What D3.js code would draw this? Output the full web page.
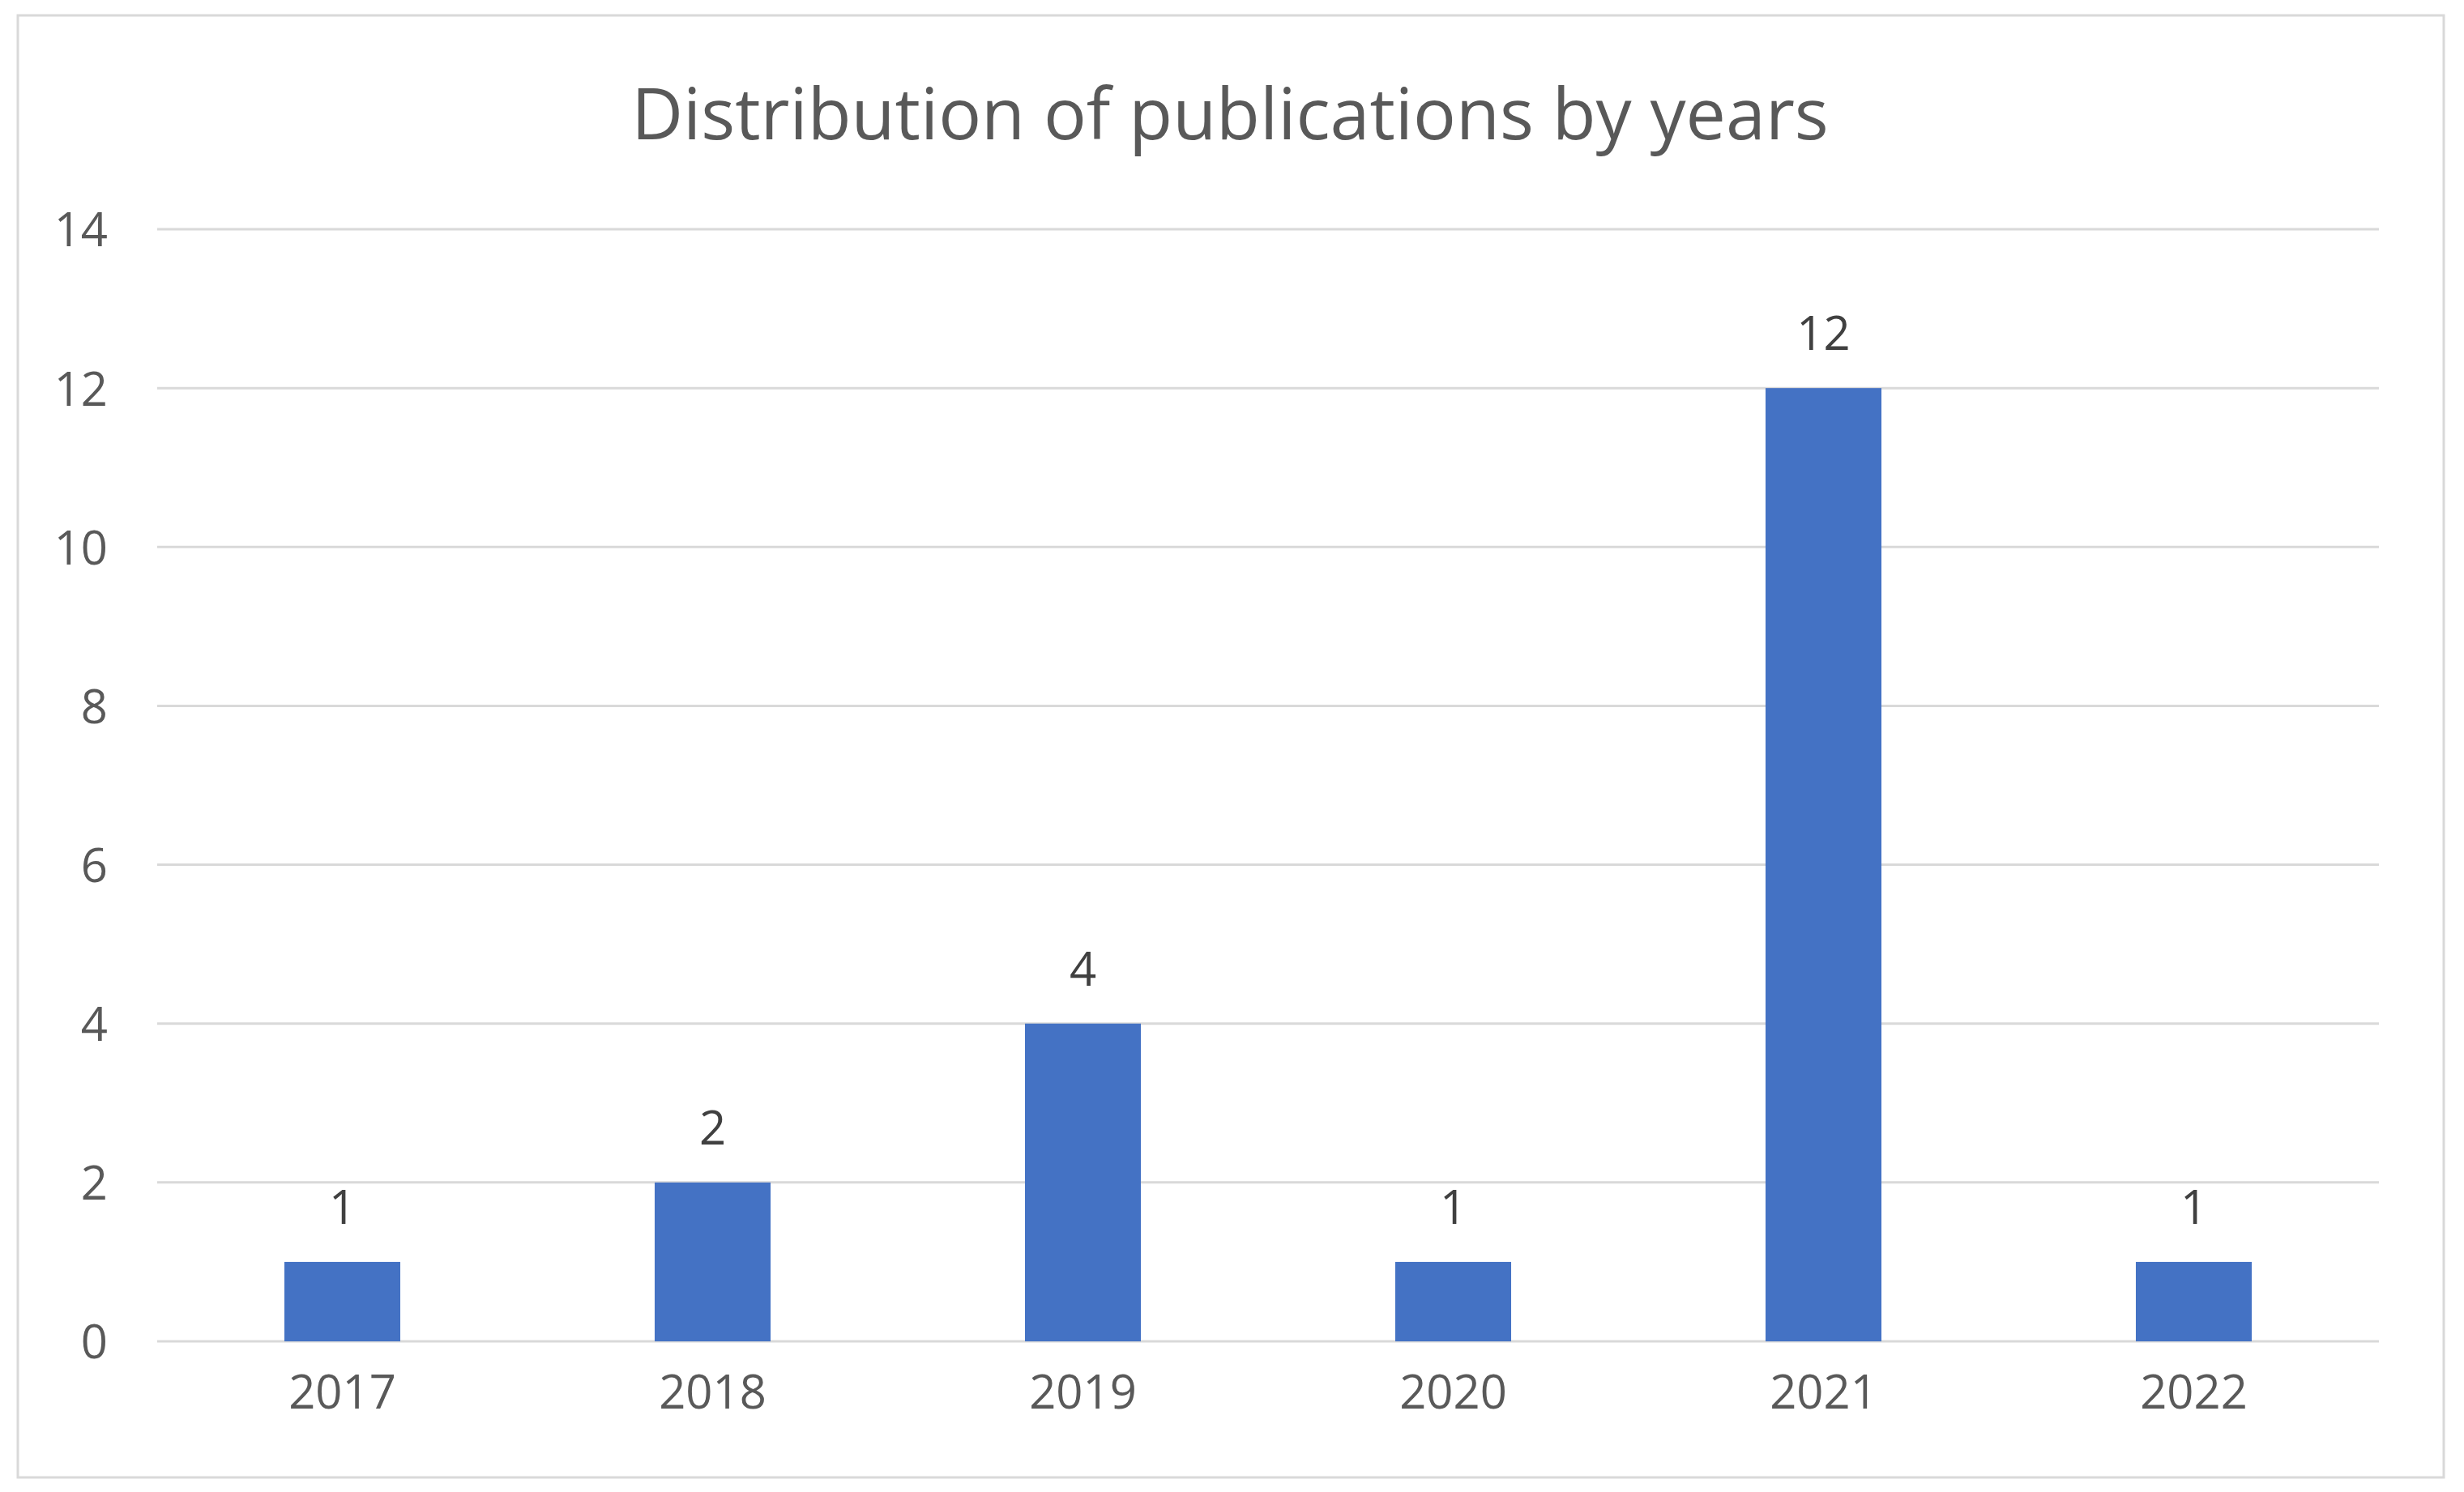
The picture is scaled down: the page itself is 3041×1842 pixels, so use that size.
<!DOCTYPE html>
<html><head><meta charset="utf-8">
<script src="https://cdn.jsdelivr.net/npm/d3@7"></script>
<style>html,body{margin:0;padding:0;background:#fff;}svg{display:block;}</style>
</head><body>
<svg id="chart" width="3041" height="1842"></svg>
<script>
const title = "Distribution of publications by years";
const years = ["2017","2018","2019","2020","2021","2022"];
const counts = [1, 2, 4, 1, 12, 1];
const yTicks = [0, 2, 4, 6, 8, 10, 12, 14];

const W = 3041, H = 1842;
const svg = d3.select("#chart");
const font = "'Open Sans', 'Noto Sans', sans-serif";

// outer border
svg.append("rect").attr("x", 22).attr("y", 19).attr("width", 2994).attr("height", 1805)
  .attr("fill", "#fff").attr("stroke", "#d9d9d9").attr("stroke-width", 3);

const m = {left: 194, right: 2936, top: 283, bottom: 1656};
const x = d3.scaleBand().domain(years).range([m.left, m.right]).paddingInner(0.687).paddingOuter(0.3435);
const y = d3.scaleLinear().domain([0, 14]).range([m.bottom, m.top]);

// gridlines
svg.append("g").selectAll("line").data(yTicks).join("line")
  .attr("x1", m.left).attr("x2", m.right)
  .attr("y1", d => y(d)).attr("y2", d => y(d))
  .attr("stroke", "#d9d9d9").attr("stroke-width", 3);

// y axis labels
const yAxis = d3.axisLeft(y).tickValues(yTicks).tickSize(0).tickPadding(0);
const gy = svg.append("g").attr("transform", `translate(133,0)`).call(yAxis);
gy.select(".domain").remove();
gy.selectAll("text").attr("font-family", font).attr("font-size", 58).attr("fill", "#595959")
  .attr("dy", "0.36em");

// x axis labels
const xAxis = d3.axisBottom(x).tickSize(0).tickPadding(0);
const gx = svg.append("g").attr("transform", `translate(0,1698)`).call(xAxis);
gx.select(".domain").remove();
gx.selectAll("text").attr("font-family", font).attr("font-size", 58).attr("fill", "#595959")
  .attr("dy", "0.71em");

// bars
svg.append("g").selectAll("rect").data(counts).join("rect")
  .attr("x", (d, i) => x(years[i]))
  .attr("width", x.bandwidth())
  .attr("y", d => y(d))
  .attr("height", d => y(0) - y(d))
  .attr("fill", "#4472C4");

// data labels
svg.append("g").selectAll("text").data(counts).join("text")
  .attr("x", (d, i) => x(years[i]) + x.bandwidth() / 2)
  .attr("y", d => y(d) - 47)
  .attr("text-anchor", "middle")
  .attr("font-family", font).attr("font-size", 58).attr("fill", "#404040")
  .text(d => d);

// title
svg.append("text").attr("x", 1518).attr("y", 172).attr("text-anchor", "middle")
  .attr("font-family", font).attr("font-size", 88).attr("fill", "#595959")
  .text(title);
</script>
</body></html>
